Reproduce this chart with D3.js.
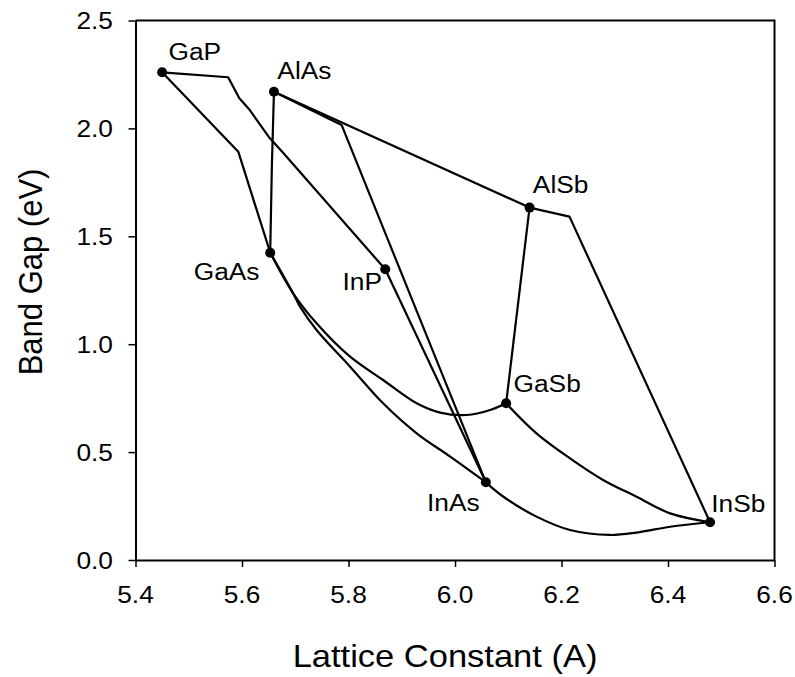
<!DOCTYPE html>
<html>
<head>
<meta charset="utf-8">
<script src="https://cdn.jsdelivr.net/npm/d3@7"></script>
<style>
  html, body { margin: 0; padding: 0; background: #fff; }
  svg { display: block; }
  text { font-family: "Liberation Sans", Arial, Helvetica, sans-serif; fill: #000; }
</style>
</head>
<body>
<svg id="chart" width="795" height="677"></svg>
<script>
// Binary III-V compounds: lattice constant (Å) and band gap (eV)
const compounds    = ["GaP", "AlAs", "GaAs", "InP", "AlSb", "GaSb", "InAs", "InSb"];
const latticeConst = [5.450, 5.660, 5.653, 5.869, 6.140, 6.096, 6.058, 6.479];
const bandGap      = [2.260, 2.170, 1.424, 1.347, 1.633, 0.726, 0.360, 0.175];

// Ternary alloys joining two binaries, with intermediate composition points
const alloyEnds = [
  ["GaP", "GaAs"], ["GaP", "InP"], ["AlAs", "GaAs"], ["AlAs", "AlSb"],
  ["AlAs", "InAs"], ["InP", "InAs"], ["GaAs", "GaSb"], ["GaAs", "InAs"],
  ["AlSb", "GaSb"], ["AlSb", "InSb"], ["GaSb", "InSb"], ["InAs", "InSb"]
];
const GaAsP  = [[5.593, 1.892]];
const GaInP  = [[5.574, 2.237], [5.595, 2.140], [5.613, 2.090], [5.652, 1.955], [5.678, 1.885]];
const AlGaAs = [[5.656, 1.815]];
const AlAsSb = [];
const AlInAs = [[5.787, 2.016]];
const InAsP  = [];
const GaAsSb = [[5.696, 1.236], [5.740, 1.097], [5.803, 0.942], [5.865, 0.834], [5.928, 0.726],
                [5.972, 0.683], [6.022, 0.672], [6.066, 0.695]];
const GaInAs = [[5.696, 1.236], [5.709, 1.174], [5.740, 1.066], [5.803, 0.896], [5.865, 0.726],
                [5.928, 0.587], [5.991, 0.479]];
const AlGaSb = [];
const AlInSb = [[6.215, 1.591]];
const GaInSb = [[6.153, 0.587], [6.216, 0.471], [6.278, 0.371], [6.341, 0.293], [6.404, 0.216]];
const InAsSb = [[6.091, 0.293], [6.153, 0.201], [6.216, 0.139], [6.291, 0.116], [6.341, 0.127],
                [6.404, 0.154]];
const alloyBends  = [GaAsP, GaInP, AlGaAs, AlAsSb, AlInAs, InAsP, GaAsSb, GaInAs, AlGaSb, AlInSb, GaInSb, InAsSb];
const alloySmooth = [false, false, false, false, false, false, true, true, false, false, true, true];

const xTicks = [5.4, 5.6, 5.8, 6.0, 6.2, 6.4, 6.6];
const yTicks = [0.0, 0.5, 1.0, 1.5, 2.0, 2.5];
const xTitle = "Lattice Constant (A)";
const yTitle = "Band Gap (eV)";

// ---- layout ----
const svg = d3.select("#chart");
const plotLeft = 135.5, plotRight = 774.5, plotTop = 20.5, plotBottom = 560;
const x = d3.scaleLinear().domain([5.4, 6.6]).range([plotLeft, plotRight]);
const y = d3.scaleLinear().domain([0, 2.5]).range([plotBottom, plotTop]);
const stretch = 1.12;   // typeface is drawn slightly wide

// frame (top and right edges)
svg.append("path")
  .attr("d", `M${x(5.4)},${y(2.5)}H${x(6.6)}V${y(0)}`)
  .attr("fill", "none").attr("stroke", "#000").attr("stroke-width", 2);

// axes
const gx = svg.append("g").attr("transform", `translate(0,${plotBottom})`)
  .call(d3.axisBottom(x).tickValues(xTicks).tickSize(7).tickSizeOuter(0).tickFormat(""));
const gy = svg.append("g").attr("transform", `translate(${plotLeft},0)`)
  .call(d3.axisLeft(y).tickValues(yTicks).tickSize(7).tickSizeOuter(0).tickFormat(""));
[gx, gy].forEach(g => {
  g.select(".domain").attr("stroke", "#000").attr("stroke-width", 2);
  g.selectAll(".tick line").attr("stroke", "#000").attr("stroke-width", 1.5);
});

// tick labels
svg.append("g").selectAll("text").data(xTicks).join("text")
  .attr("transform", d => `translate(${x(d)},603) scale(${stretch},1)`)
  .attr("text-anchor", "middle").attr("font-size", 23.5)
  .text(d => d3.format(".1f")(d));
svg.append("g").selectAll("text").data(yTicks).join("text")
  .attr("transform", d => `translate(113,${y(d) + 8.5}) scale(${stretch},1)`)
  .attr("text-anchor", "end").attr("font-size", 23.5)
  .text(d => d3.format(".1f")(d));

// axis titles
svg.append("text")
  .attr("transform", `translate(445,667) scale(${stretch},1)`)
  .attr("text-anchor", "middle").attr("font-size", 30.8)
  .text(xTitle);
svg.append("text")
  .attr("transform", `translate(41.5,272) scale(1.06,1) rotate(-90)`)
  .attr("text-anchor", "middle").attr("font-size", 31)
  .text(yTitle);

// alloy curves
const pos = name => {
  const i = compounds.indexOf(name);
  return [latticeConst[i], bandGap[i]];
};
const lineLinear = d3.line().x(d => x(d[0])).y(d => y(d[1]));
const lineSmooth = d3.line().x(d => x(d[0])).y(d => y(d[1])).curve(d3.curveCatmullRom.alpha(0.5));
svg.append("g").selectAll("path").data(alloyEnds).join("path")
  .attr("d", (e, i) => (alloySmooth[i] ? lineSmooth : lineLinear)([pos(e[0]), ...alloyBends[i], pos(e[1])]))
  .attr("fill", "none").attr("stroke", "#000").attr("stroke-width", 2.2)
  .attr("stroke-linejoin", "round");

// binary compound markers
svg.append("g").selectAll("circle").data(compounds).join("circle")
  .attr("cx", (d, i) => x(latticeConst[i]))
  .attr("cy", (d, i) => y(bandGap[i]))
  .attr("r", 5).attr("fill", "#000");

// compound labels
const labelPlace = {
  GaP:  [6.3, -12.5, "start"], AlAs: [3.4, -12.4, "start"],
  GaAs: [-10.7, 27.7, "end"],  InP:  [-3.3, 20.7, "end"],
  AlSb: [3.3, -14.4, "start"], GaSb: [7.4, -11.3, "start"],
  InAs: [-6.2, 28.2, "end"],   InSb: [1.2, -10.3, "start"]
};
svg.append("g").selectAll("text").data(compounds).join("text")
  .attr("transform", (d, i) => {
    const p = labelPlace[d];
    return `translate(${x(latticeConst[i]) + p[0]},${y(bandGap[i]) + p[1]}) scale(${stretch},1)`;
  })
  .attr("text-anchor", d => labelPlace[d][2])
  .attr("font-size", 23.5)
  .text(d => d);
</script>
</body>
</html>
